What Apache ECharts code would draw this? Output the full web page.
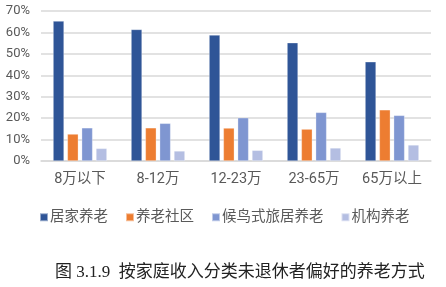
<!DOCTYPE html>
<html>
<head>
<meta charset="utf-8">
<script src="https://cdn.jsdelivr.net/npm/echarts@6/dist/echarts.min.js"></script>
<style>
  html, body { margin: 0; padding: 0; background: #fff; }
  #chart { width: 446px; height: 287px; }
</style>
</head>
<body>
<div id="chart"></div>
<script>
// 收入分组
const categories = ['8万以下', '8-12万', '12-23万', '23-65万', '65万以上']
// 各养老方式占比（%）
const homeCare = [65.3, 61.4, 58.8, 55.2, 46.3]
const community = [12.6, 15.5, 15.4, 14.9, 23.9]
const migratory = [15.5, 17.6, 20.2, 22.7, 21.3]
const institution = [5.9, 4.7, 5.0, 6.1, 7.5]
const seriesNames = ['居家养老', '养老社区', '候鸟式旅居养老', '机构养老']
const colors = ['#2F5597', '#ED7D31', '#7F96D1', '#B4BEE2']

const seriesData = [homeCare, community, migratory, institution]
const series_ = seriesData.map((d, i) => ({
    name: seriesNames[i],
    type: 'bar',
    data: d,
    barWidth: 11,
    barGap: '30%',
    itemStyle: { color: colors[i], borderColor: 'rgba(255,255,255,0.5)', borderWidth: 0.6 }
}))

const option = {
    animation: false,
    textStyle: { fontFamily: 'Roboto, "Noto Sans CJK SC", sans-serif' },
    title: {
        text: '图 3.1.9  按家庭收入分类未退休者偏好的养老方式',
        left: 50,
        top: 259,
        textStyle: {
            fontFamily: '"Liberation Serif", "Noto Sans CJK SC", serif',
            fontSize: 17,
            fontWeight: 'normal',
            color: '#222'
        }
    },
    legend: {
        data: seriesNames,
        top: 205,
        left: 34,
        itemWidth: 8,
        itemHeight: 8,
        itemGap: 17,
        icon: 'rect',
        textStyle: { fontSize: 14.5, color: '#595959', padding: [0, 0, 0, -3] }
    },
    grid: { left: 41, right: 15, top: 11, bottom: 126 },
    xAxis: {
        type: 'category',
        data: categories,
        axisTick: { show: false },
        axisLine: { lineStyle: { color: '#d9d9d9', width: 1.5 } },
        axisLabel: { interval: 0, fontSize: 14.5, color: '#595959', margin: 11 }
    },
    yAxis: {
        type: 'value',
        min: 0,
        max: 70,
        interval: 10,
        axisLabel: { formatter: '{value}%', fontSize: 13, color: '#595959', margin: 11 },
        axisLine: { show: false },
        axisTick: { show: false },
        splitLine: { lineStyle: { color: '#d9d9d9', width: 1.5 } }
    },
    series: series_
}

const myChart = echarts.init(document.getElementById('chart'))
myChart.setOption(option)
</script>
</body>
</html>
